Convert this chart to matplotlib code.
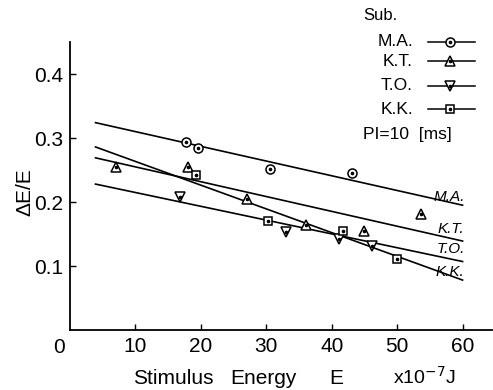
import numpy as np
import matplotlib
matplotlib.use("Agg")
import matplotlib.pyplot as plt
from matplotlib.lines import Line2D

plt.rcParams['font.family'] = ['Liberation Sans', 'DejaVu Sans']

subjects = ["M.A.", "K.T.", "T.O.", "K.K."]
markers = ["o", "^", "v", "s"]

ma_x = [17.8, 19.5, 30.6, 43.1]
ma_y = [0.294, 0.285, 0.252, 0.245]
kt_x = [7.1, 18.0, 27.0, 36.0, 45.0, 53.7]
kt_y = [0.255, 0.255, 0.204, 0.164, 0.155, 0.182]
to_x = [16.8, 33.0, 41.1, 46.2]
to_y = [0.208, 0.153, 0.142, 0.131]
kk_x = [19.3, 30.2, 41.7, 50.0]
kk_y = [0.242, 0.171, 0.155, 0.111]

# fitted lines, end values at E=4 and E=60
fit_x = [3.9, 60.0]
fit_y0 = [0.324, 0.269, 0.228, 0.286]
fit_y1 = [0.195, 0.139, 0.107, 0.078]

xticks = [10, 20, 30, 40, 50, 60]
yticks = [0.1, 0.2, 0.3, 0.4]

fig = plt.figure(figsize=(4.93, 3.90), dpi=100)
ax = fig.add_axes([70/493, 60/390, 422/493, 288/390])

xs = [ma_x, kt_x, to_x, kk_x]
ys = [ma_y, kt_y, to_y, kk_y]
for i in range(4):
    ax.plot(fit_x, [fit_y0[i], fit_y1[i]], color='black', lw=1.2)
    ax.plot(xs[i], ys[i], ls='none', marker=markers[i], ms=6.5 if markers[i] != 's' else 6,
            mfc='white', mec='black', mew=1.1, zorder=5)
    ax.plot(xs[i], ys[i], ls='none', marker='o', ms=1.6, color='black', zorder=6)

# labels on line ends
lab_dy = [0.002, 0.008, 0.009, 0.002]
for i in range(4):
    ax.text(60.3, fit_y1[i] + lab_dy[i], subjects[i], ha='right', va='bottom',
            fontsize=11, style='italic')

ax.set_xlim(0, 64.5)
ax.set_ylim(0, 0.45)
ax.set_xticks(xticks)
ax.set_yticks(yticks)
ax.set_xticklabels([str(t) for t in xticks])
ax.set_yticklabels([str(t) for t in yticks])
ax.tick_params(direction='in', length=4, width=1, labelsize=15, pad=5)
ax.spines['top'].set_visible(False)
ax.spines['right'].set_visible(False)
ax.spines['left'].set_linewidth(1.3)
ax.spines['bottom'].set_linewidth(1.3)
ax.text(-0.8, -0.012, "0", ha='right', va='top', fontsize=15)

# axis labels
fig.text(25/493, 1 - 192/390, "ΔE/E", rotation=90, ha='center', va='center', fontsize=15)
fig.text(133/493, 1 - 378/390, "Stimulus", ha='left', va='center', fontsize=15)
fig.text(230/493, 1 - 378/390, "Energy", ha='left', va='center', fontsize=15)
fig.text(329/493, 1 - 378/390, "E", ha='left', va='center', fontsize=15)
fig.text(393/493, 1 - 377/390, "x10$^{-7}$J", ha='left', va='center', fontsize=14)

# legend
fig.text(363/493, 1 - 15/390, "Sub.", ha='left', va='center', fontsize=12)
leg_y = [41.7, 61, 86, 109.3]
for i in range(4):
    yy = 1 - leg_y[i] / 390
    fig.text(413/493, yy, subjects[i], ha='right', va='center', fontsize=12.5)
    fig.add_artist(Line2D([428/493, 475/493], [yy, yy], color='black', lw=1.1))
    fig.add_artist(Line2D([450/493], [yy], ls='none', marker=markers[i], ms=6.5 if markers[i] != 's' else 6,
                          mfc='white', mec='black', mew=1.1))
    fig.add_artist(Line2D([450/493], [yy], ls='none', marker='o', ms=1.6, color='black'))
fig.text(363/493, 1 - 135/390, "PI=10  [ms]", ha='left', va='center', fontsize=12.5)

fig.savefig("out.png", dpi=100)
